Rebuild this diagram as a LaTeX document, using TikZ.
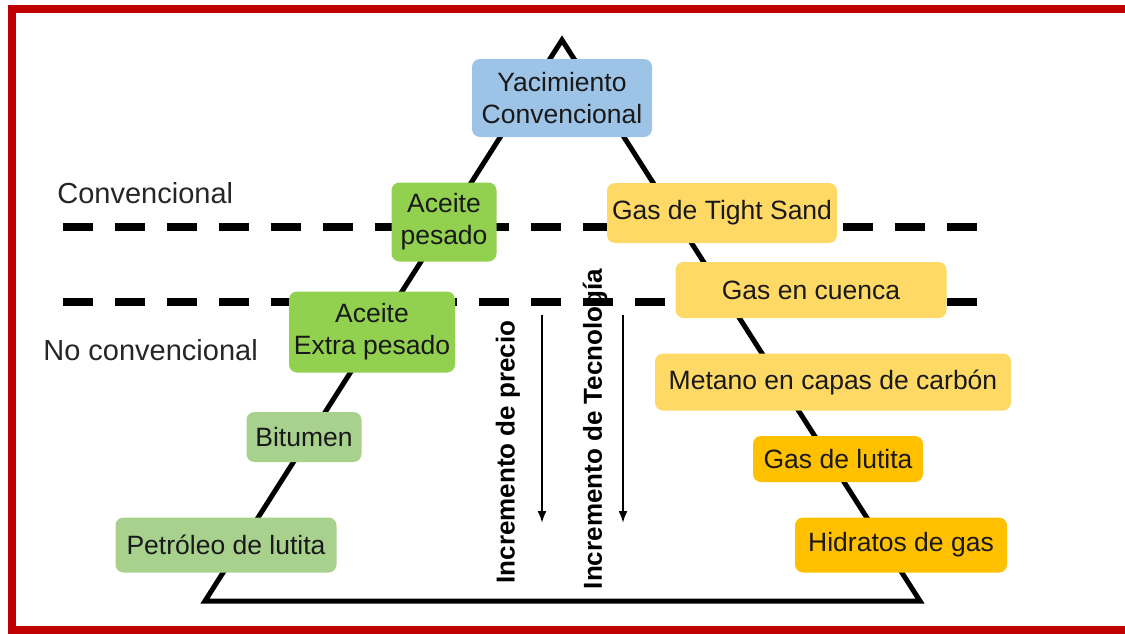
\documentclass[tikz,border=0pt]{standalone}
\usepackage{fontspec}
\setmainfont{Liberation Sans}
\usetikzlibrary{arrows.meta}

\definecolor{marco}{HTML}{C00000}
\definecolor{azul}{HTML}{9DC3E6}
\definecolor{verde}{HTML}{92D050}
\definecolor{verdeclaro}{HTML}{A9D18E}
\definecolor{amarillo}{HTML}{FFD966}
\definecolor{naranja}{HTML}{FFC000}

\tikzset{
  caja/.style={rounded corners=4pt, inner sep=0pt, align=center,
    font=\fontsize{13.25}{16}\selectfont, text=black!90},
  lado/.style={anchor=west, inner sep=0pt, font=\fontsize{14.5}{17}\selectfont, text=black!85},
  eje/.style={rotate=90, inner sep=0pt, font=\fontsize{13}{15}\selectfont\bfseries},
  corte/.style={line width=4pt, dash pattern=on 15pt off 11pt}
}

\begin{document}
\begin{tikzpicture}[x=0.5pt, y=-0.5pt]

    \useasboundingbox (0,0) rectangle (1125,633);

    % marco
    \draw[marco, line width=4pt] (1125,9) -- (12,9) -- (12,630) -- (1125,630);

    \coordinate (V) at (562,40);
    \coordinate (I) at (205,601);
    \coordinate (D) at (920,601);

    \draw[corte] (63,227) -- (977,227);
    \draw[corte] (63,302) -- (977,302);

    \draw[line width=2.5pt] (V) -- (I) -- (D) -- cycle;

    \coordinate (p1) at (542,315);
    \coordinate (p2) at (542,523);
    \coordinate (t1) at (623,315);
    \coordinate (t2) at (623,523);
    \draw[line width=1pt, -{Latex[length=6pt,width=4.5pt]}] (p1) -- (p2);
    \draw[line width=1pt, -{Latex[length=6pt,width=4.5pt]}] (t1) -- (t2);

    \node[lado] (conv) at (57,193) {Convencional};
    \node[lado] (noconv) at (43,350) {No convencional};

    \node[caja, fill=azul, minimum width=90pt, minimum height=39pt] (yac) at (562,98) {Yacimiento\\Convencional};

    \node[caja, fill=verde, minimum width=52.5pt, minimum height=39.5pt] (pesado) at (444,222) {Aceite\\pesado};
    \node[caja, fill=verde, minimum width=83pt, minimum height=40.5pt] (extra) at (372,332) {Aceite\\Extra pesado};
    \node[caja, fill=verdeclaro, minimum width=57.5pt, minimum height=25pt] (bitumen) at (304,437) {Bitumen};
    \node[caja, fill=verdeclaro, minimum width=110.5pt, minimum height=27.5pt] (petroleo) at (226,545) {Petróleo de lutita};

    \node[caja, fill=amarillo, minimum width=115pt, minimum height=30pt] (tight) at (722,213) {Gas de Tight Sand};
    \node[caja, fill=amarillo, minimum width=135.5pt, minimum height=28pt] (cuenca) at (811,290) {Gas en cuenca};
    \node[caja, fill=amarillo, minimum width=178pt, minimum height=28.5pt] (metano) at (833,382) {Metano en capas de carbón};
    \node[caja, fill=naranja, minimum width=85pt, minimum height=23pt] (lutita) at (838,459) {Gas de lutita};
    \node[caja, fill=naranja, minimum width=106pt, minimum height=27.5pt] (hidratos) at (901,545) {Hidratos de gas};

    \node[eje] (precio) at (508,452) {Incremento de precio};
    \node[eje] (tecno) at (595,429) {Incremento de Tecnología};

\end{tikzpicture}
\end{document}
